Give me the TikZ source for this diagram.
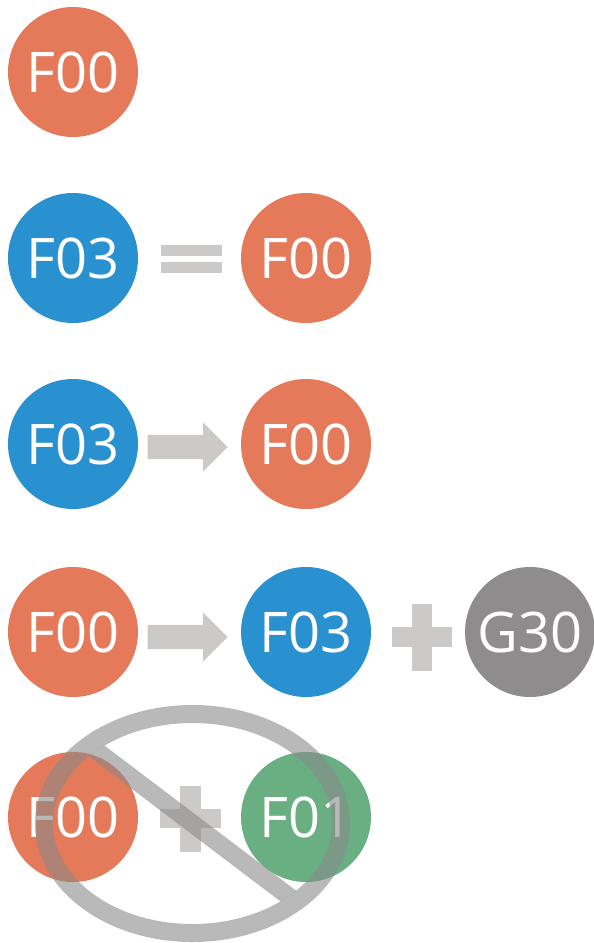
\documentclass[tikz,border=0pt]{standalone}
\usepackage{fontspec}
\setmainfont{Open Sans}
\usetikzlibrary{shapes.arrows}
\definecolor{fred}{HTML}{E57A5A}
\definecolor{fblue}{HTML}{2A91D1}
\definecolor{ggray}{HTML}{8E8C8D}
\definecolor{fgreen}{HTML}{69AF81}
\definecolor{symgray}{HTML}{CBCAC8}
\definecolor{nogray}{HTML}{8A8A8A}
\begin{document}
\begin{tikzpicture}[x=1pt, y=-1pt, inner sep=0pt]% 1 unit = 1 px of the reference
\tikzstyle{ball}=[circle, minimum size=130pt, text=white, font=\fontsize{56}{60}\selectfont]
\tikzstyle{go}=[single arrow, fill=symgray, minimum height=80pt, minimum width=49pt,
  inner xsep=0pt, inner ysep=12pt, single arrow head extend=12.5pt]
\useasboundingbox (0,0) rectangle (594,943);

% row 1
\node[ball, fill=fred] (fa) at (73,72) {F00};

% row 2
\node[ball, fill=fblue] (fb1) at (73,258) {F03};
\node[ball, fill=fred] (fb2) at (306,258) {F00};
\fill[symgray] (161,245) rectangle (222,256);
\fill[symgray] (161,262) rectangle (222,273);

% row 3
\node[ball, fill=fblue] (fc1) at (73,444) {F03};
\node[ball, fill=fred] (fc2) at (306,444) {F00};
\node[go] (goc) at (181.5,447) {};

% row 4
\node[ball, fill=fred] (fd1) at (73,632) {F00};
\node[ball, fill=fblue] (fd2) at (306,632) {F03};
\node[ball, fill=ggray] (gd3) at (530,632) {G30};
\node[go] (god) at (181.5,637) {};
\fill[symgray] (412,604) rectangle (432,671);
\fill[symgray] (392,627) rectangle (452,647);

% row 5
\node[ball, fill=fred] (fe1) at (73,817) {F00};
\node[ball, fill=fgreen] (fe2) at (306,817) {F01};
\fill[symgray] (180,786) rectangle (201,852);
\fill[symgray] (160,809) rectangle (221,828);

% the "not allowed" sign
\coordinate (no) at (192.5,823.5);
\draw[nogray, opacity=.6, line width=18pt] (no) ellipse [x radius=148.5, y radius=109.5];
\begin{scope}
\clip (no) ellipse [x radius=139.5, y radius=100.5];
\draw[nogray, opacity=.6, line width=18pt] (no) +(-140,-106) -- +(140,106);
\end{scope}

\end{tikzpicture}
\end{document}
